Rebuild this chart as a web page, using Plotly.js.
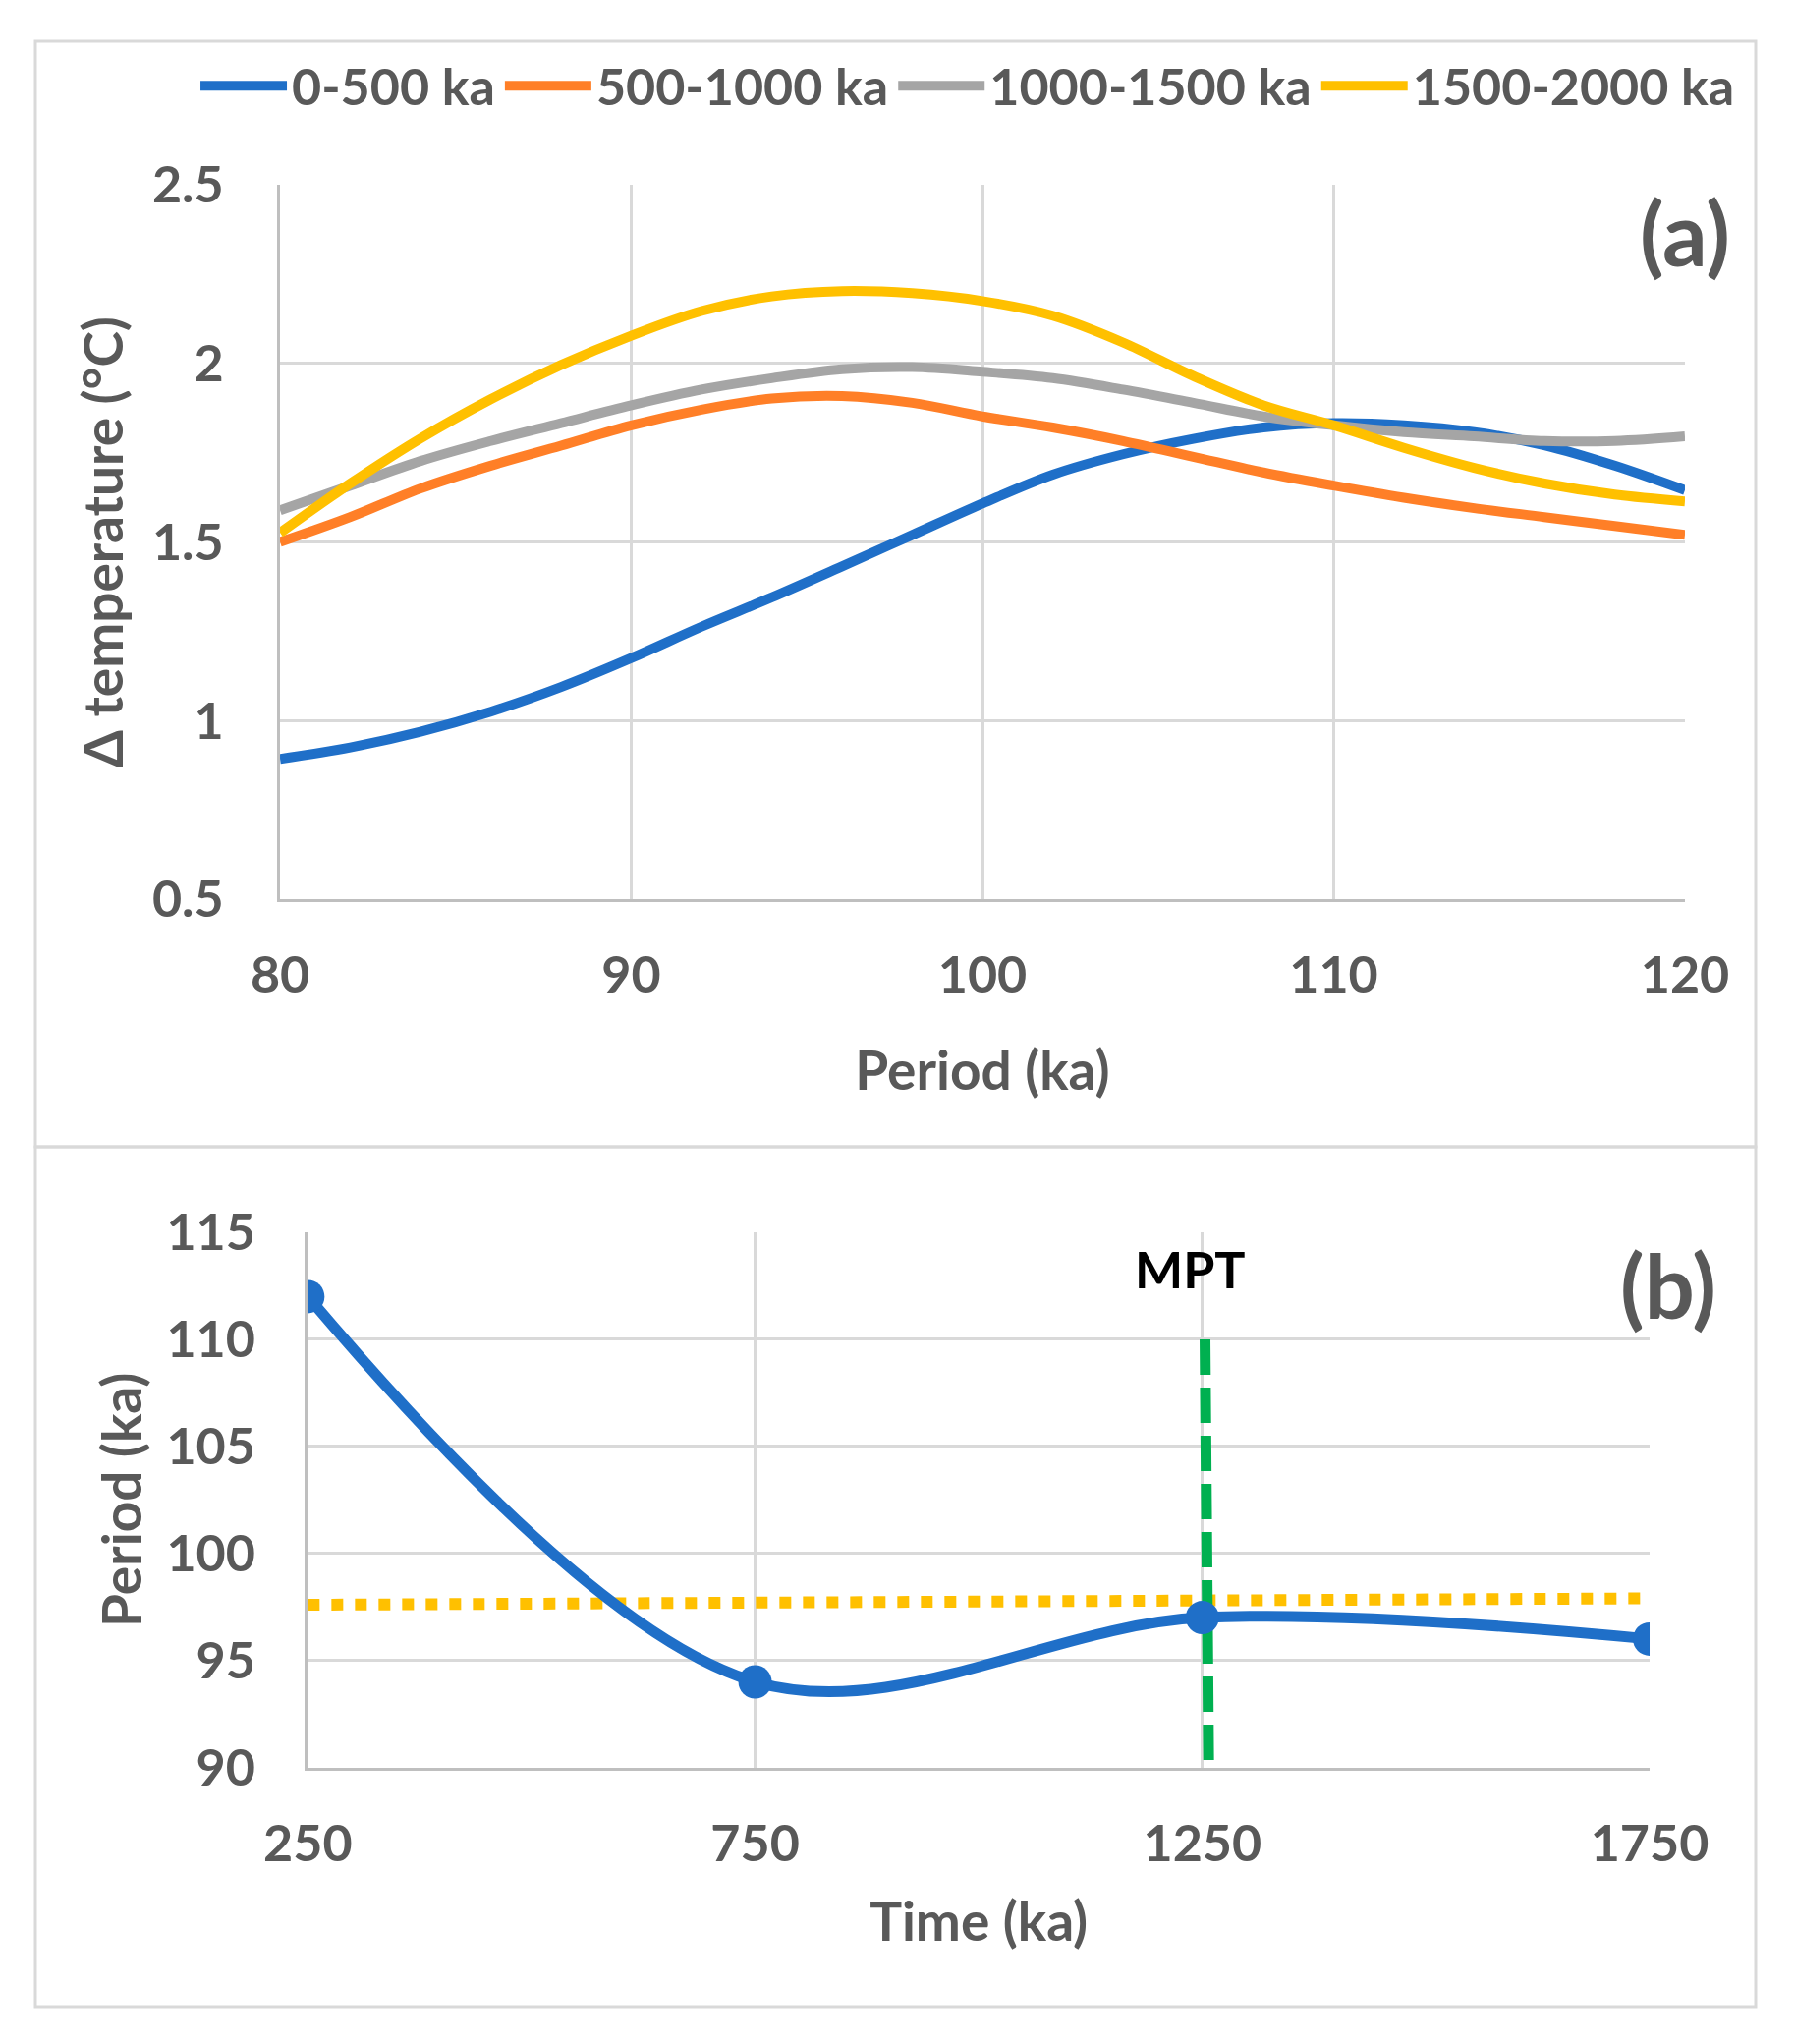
<!DOCTYPE html>
<html>
<head>
<meta charset="utf-8">
<script src="https://cdn.plot.ly/plotly-3.0.1.min.js"></script>
<style>html,body{margin:0;padding:0;background:#fff;}#chart{width:1826px;height:2080px;}</style>
</head>
<body>
<div id="chart"></div>
<script>
// ---- Panel (a) data ----
const periodA = [80,82,84,86,88,90,92,94,96,98,100,102,104,106,108,110,112,114,116,118,120];
const dT_0_500 = [0.893,0.925,0.969,1.025,1.094,1.175,1.263,1.345,1.432,1.520,1.608,1.689,1.746,1.789,1.821,1.833,1.827,1.808,1.771,1.714,1.645];
const dT_500_1000 = [1.500,1.570,1.650,1.714,1.770,1.827,1.871,1.902,1.909,1.890,1.852,1.821,1.783,1.739,1.695,1.658,1.624,1.595,1.570,1.545,1.520];
const dT_1000_1500 = [1.589,1.658,1.727,1.783,1.833,1.883,1.927,1.959,1.984,1.990,1.977,1.959,1.927,1.890,1.852,1.827,1.808,1.796,1.783,1.783,1.796];
const dT_1500_2000 = [1.526,1.664,1.790,1.900,1.996,2.078,2.147,2.188,2.203,2.197,2.175,2.134,2.059,1.965,1.883,1.827,1.764,1.708,1.664,1.633,1.614];
const seriesNames = ['0-500 ka','500-1000 ka','1000-1500 ka','1500-2000 ka'];

// ---- Panel (b) data ----
const timeKa = [250,750,1250,1750];
const periodKa = [112,94,97,96];
const meanLineX = [250,1750];
const meanLineY = [97.6,97.9];
const mptX = [1253,1257];
const mptY = [110,90.3];
const timeTicks = [250,750,1250,1750];

const TXT = '#595959';
const GRID = '#d9d9d9';
const AXL = '#bfbfbf';
const FONT = 'Lato, "Open Sans", sans-serif';

function line(x, y, color, name, xa, ya, extra) {
  return Object.assign({
    type:'scatter', mode:'lines', x:x, y:y, name:name,
    xaxis:xa, yaxis:ya,
    line:{color:color, width:10, shape:'spline', smoothing:1}
  }, extra||{});
}

const traces = [
  line(periodA, dT_0_500, '#1f6fc8', seriesNames[0], 'x', 'y'),
  line(periodA, dT_500_1000, '#ff7f27', seriesNames[1], 'x', 'y'),
  line(periodA, dT_1000_1500, '#a5a5a5', seriesNames[2], 'x', 'y'),
  line(periodA, dT_1500_2000, '#ffc000', seriesNames[3], 'x', 'y'),
  {type:'scatter', mode:'lines', x:meanLineX, y:meanLineY, xaxis:'x2', yaxis:'y2', showlegend:false,
   line:{color:'#ffc000', width:12, dash:'dot'}},
  {type:'scatter', mode:'lines', x:mptX, y:mptY, xaxis:'x2', yaxis:'y2', showlegend:false,
   line:{color:'#00b050', width:11, dash:'36px,13px'}},
  {type:'scatter', mode:'lines+markers', x:timeKa, y:periodKa, xaxis:'x2', yaxis:'y2', showlegend:false,
   line:{color:'#1f6fc8', width:11, shape:'spline', smoothing:1},
   marker:{color:'#1f6fc8', size:34}}
];

const tickFont = {family:FONT, size:52, color:TXT, weight:700};
const titleFont = {family:FONT, size:55, color:TXT, weight:700};

function axisBase() {
  return {showgrid:true, gridcolor:GRID, gridwidth:3, showline:true, linecolor:AXL, linewidth:3,
          zeroline:false, ticks:'', tickfont:tickFont, fixedrange:true};
}

const layout = {
  width:1826, height:2080,
  margin:{l:0,r:0,t:0,b:0},
  paper_bgcolor:'#ffffff', plot_bgcolor:'#ffffff',
  font:{family:FONT, color:TXT, size:52},
  showlegend:true,
  legend:{orientation:'h', x:0.109, y:0.958, xanchor:'left', yanchor:'middle',
          font:{family:FONT, size:52, color:TXT, weight:700}, itemwidth:88, bgcolor:'rgba(0,0,0,0)'},
  xaxis:Object.assign(axisBase(), {domain:[0.1561,0.9392], anchor:'y', range:[80,120], tick0:80, dtick:10,
          ticklabelstandoff:30, title:{text:'Period (ka)', font:titleFont, standoff:51}}),
  yaxis:Object.assign(axisBase(), {domain:[0.5601,0.9095], anchor:'x', range:[0.5,2.5], tick0:0.5, dtick:0.5,
          ticklabelstandoff:44, title:{text:'Δ temperature (°C)', font:titleFont, standoff:12}}),
  xaxis2:Object.assign(axisBase(), {domain:[0.1716,0.9195], anchor:'y2', range:[250,1750], tickvals:timeTicks,
          ticklabelstandoff:30, title:{text:'Time (ka)', font:titleFont, standoff:33}}),
  yaxis2:Object.assign(axisBase(), {domain:[0.1353,0.3971], anchor:'x2', range:[90,115], tick0:90, dtick:5,
          ticklabelstandoff:40, title:{text:'Period (ka)', font:titleFont, standoff:8}}),
  shapes:[
    {type:'rect', xref:'paper', yref:'paper', x0:36/1826, x1:1787/1826, y0:1-1167/2080, y1:1-42/2080,
     line:{color:GRID, width:3}, layer:'below'},
    {type:'rect', xref:'paper', yref:'paper', x0:36/1826, x1:1787/1826, y0:1-2042/2080, y1:1-1167/2080,
     line:{color:GRID, width:3}, layer:'below'}
  ],
  annotations:[
    {xref:'paper', yref:'paper', x:0.9392, y:0.8866, text:'(a)', showarrow:false, xanchor:'center', yanchor:'middle',
     font:{family:FONT, size:90, color:TXT, weight:700}},
    {xref:'paper', yref:'paper', x:0.93, y:0.3715, text:'(b)', showarrow:false, xanchor:'center', yanchor:'middle',
     font:{family:FONT, size:90, color:TXT, weight:700}},
    {xref:'x2', yref:'y2', x:1237, y:113.3, text:'MPT', showarrow:false, xanchor:'center', yanchor:'middle',
     font:{family:FONT, size:52, color:'#000000', weight:700}}
  ]
};

Plotly.newPlot('chart', traces, layout, {staticPlot:true, displayModeBar:false});
</script>
</body>
</html>
